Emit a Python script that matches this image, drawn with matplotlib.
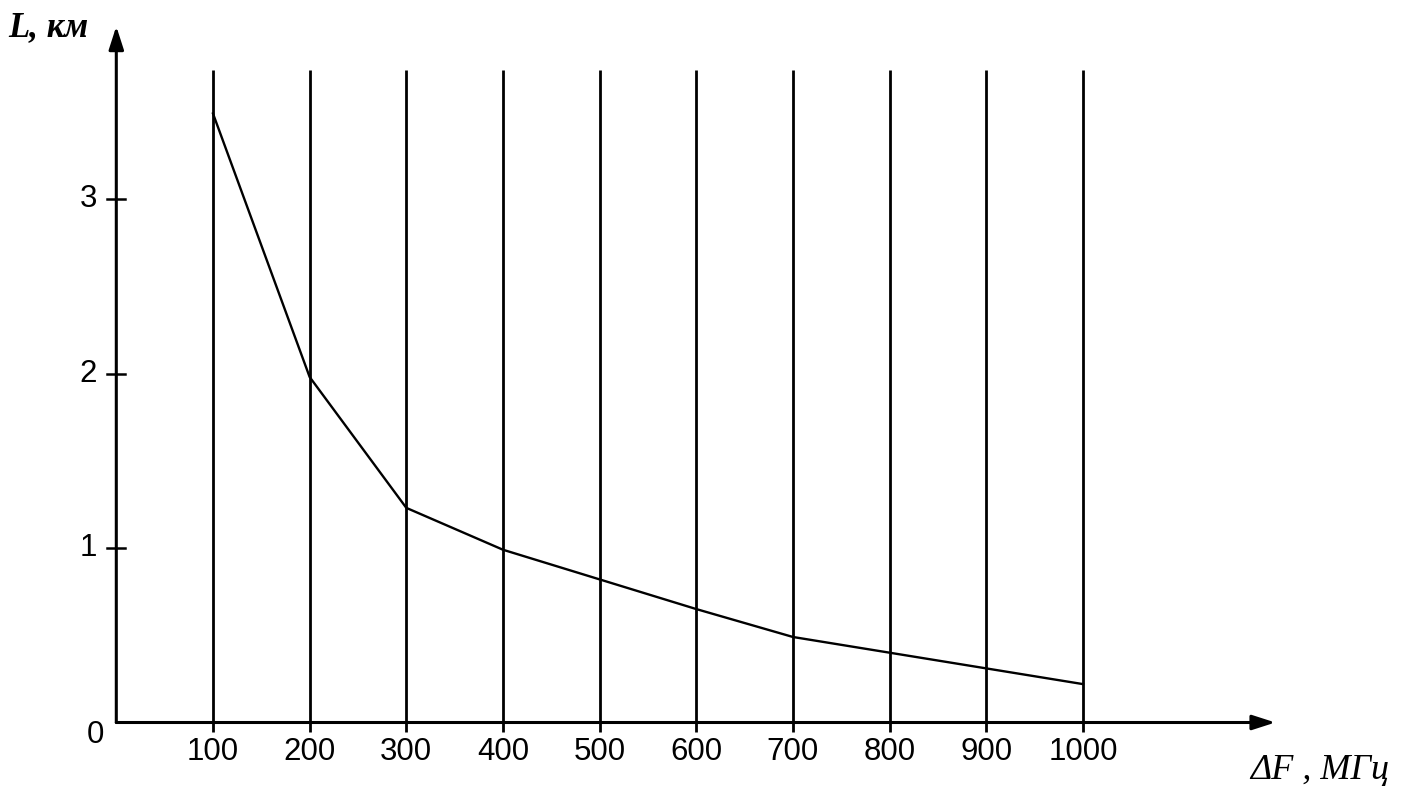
import numpy as np
import matplotlib
matplotlib.use("Agg")
import matplotlib.pyplot as plt

# data
freq = [100, 200, 300, 400, 500, 600, 700, 800, 900, 1000]
dist = [3.49, 1.98, 1.23, 0.99, 0.82, 0.65, 0.49, 0.40, 0.31, 0.22]
y_ticks = [1, 2, 3]
x_label = "ΔF , МГц"
y_label = "L, км"

fig = plt.figure(figsize=(14.11, 7.89), dpi=100)
ax = fig.add_axes([0, 0, 1, 1])
# pixel mapping: x_px = 116.3 + 0.9667*x, y_px = 722.5 - 174.5*y
ax.set_xlim(-116.3 / 0.9667, (1411 - 116.3) / 0.9667)
ax.set_ylim((722.5 - 789) / 174.5, 722.5 / 174.5)
ax.axis("off")

# vertical grid lines at every frequency
for f in freq:
    ax.plot([f, f], [-0.055, 3.74], color="black", lw=2.0, solid_capstyle="butt")

# axes with arrows
ax.annotate("", xy=(1199, 0), xytext=(0, 0),
            arrowprops=dict(arrowstyle="-|>,head_length=1.4,head_width=0.45",
                            color="black", lw=2.2, shrinkA=0, shrinkB=0))
ax.annotate("", xy=(0, 3.99), xytext=(0, 0),
            arrowprops=dict(arrowstyle="-|>,head_length=1.4,head_width=0.45",
                            color="black", lw=2.2, shrinkA=0, shrinkB=0))

# y ticks crossing the axis
for t in y_ticks:
    ax.plot([-9.5, 9.5], [t, t], color="black", lw=1.8)
    ax.text(-29, t, str(t), ha="center", va="center", fontsize=22.5,
            family="Liberation Sans")
ax.text(-22, -0.07, "0", ha="center", va="center", fontsize=22.5,
        family="Liberation Sans")

for f in freq:
    ax.text(f, -0.17, str(f), ha="center", va="center", fontsize=22.5,
            family="Liberation Sans")

# the curve
ax.plot(freq, dist, color="black", lw=1.7)

ax.text(-112, 3.98, y_label, ha="left", va="center", fontsize=25,
        family=["Liberation Serif", "DejaVu Serif"], style="italic", weight="bold")
ax.text(1173, -0.275, x_label, ha="left", va="center", fontsize=26,
        family=["Liberation Serif", "DejaVu Serif"], style="italic")

plt.savefig("out.png", dpi=100, facecolor="white")
